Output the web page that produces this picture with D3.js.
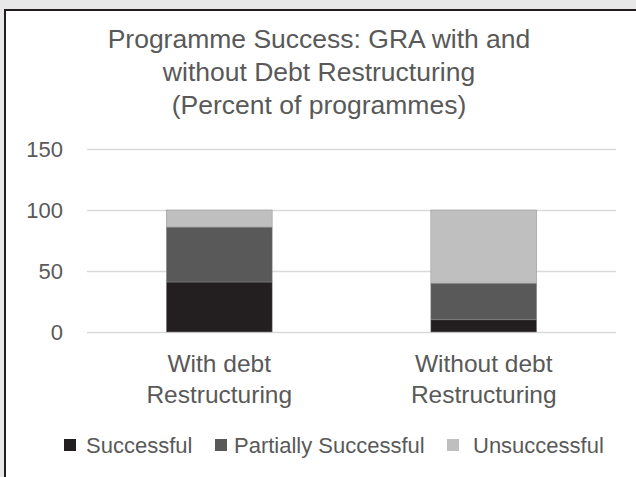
<!DOCTYPE html>
<html>
<head>
<meta charset="utf-8">
<script src="https://cdn.jsdelivr.net/npm/d3@7"></script>
<style>
  body { margin: 0; background: #e8e8e9; }
  svg { display: block; font-family: "Liberation Sans", Arial, sans-serif; }
</style>
</head>
<body>
<svg width="636" height="477"></svg>
<script>
var svg = d3.select("svg"),
    width = +svg.attr("width"),
    height = +svg.attr("height");

// data
var categories = [["With debt", "Restructuring"], ["Without debt", "Restructuring"]];
var seriesNames = ["Successful", "Partially Successful", "Unsuccessful"];
var successful = [41, 10];
var partial = [45, 30];
var unsuccessful = [14, 60];
var yTicks = [0, 50, 100, 150];
var titleLines = ["Programme Success: GRA with and", "without Debt Restructuring", "(Percent of programmes)"];

var colors = ["#231f20", "#595959", "#bfbfbf"];
var textColor = "#595959";

// panel
svg.append("rect")
  .attr("x", 5).attr("y", 10)
  .attr("width", width + 10).attr("height", height + 10)
  .attr("fill", "#fff")
  .attr("stroke", "#231f20")
  .attr("stroke-width", 2);

// title
svg.append("g").selectAll("text")
  .data(titleLines)
  .enter().append("text")
  .attr("x", 319)
  .attr("y", function(d, i) { return 48 + i * 33; })
  .attr("text-anchor", "middle")
  .attr("font-size", 26.5)
  .attr("fill", textColor)
  .text(function(d) { return d; });

var margin = {left: 87, right: 20};
var plotW = width - margin.left - margin.right;

var x = d3.scaleBand()
  .domain(d3.range(categories.length))
  .range([margin.left, margin.left + plotW])
  .paddingInner(0.6)
  .paddingOuter(0.3);

var y = d3.scaleLinear()
  .domain([0, 150])
  .range([332, 149]);

// gridlines
svg.append("g")
  .attr("transform", "translate(" + margin.left + ",0)")
  .call(d3.axisLeft(y).tickValues(yTicks).tickSize(-plotW).tickFormat(""))
  .call(function(g) {
    g.select(".domain").remove();
    g.selectAll("line").attr("stroke", "#d9d9d9").attr("stroke-width", 1.5);
  });

// y tick labels
svg.append("g")
  .attr("transform", "translate(63,0)")
  .call(d3.axisLeft(y).tickValues(yTicks).tickSize(0).tickPadding(0))
  .call(function(g) {
    g.select(".domain").remove();
    g.selectAll("text")
      .attr("font-size", 22)
      .attr("font-family", "Liberation Sans, Arial, sans-serif")
      .attr("fill", textColor);
  });

// stacked bars
var rows = categories.map(function(c, i) {
  return {i: i, Successful: successful[i], "Partially Successful": partial[i], Unsuccessful: unsuccessful[i]};
});
var stack = d3.stack().keys(seriesNames)(rows);

svg.append("g").selectAll("g")
  .data(stack)
  .enter().append("g")
  .attr("fill", function(d, i) { return colors[i]; })
  .selectAll("rect")
  .data(function(d) { return d; })
  .enter().append("rect")
  .attr("x", function(d) { return x(d.data.i); })
  .attr("width", x.bandwidth())
  .attr("y", function(d) { return y(d[1]); })
  .attr("height", function(d) { return y(d[0]) - y(d[1]); })
  .attr("stroke", "#8a8a8a")
  .attr("stroke-width", 0.5);

// category labels
var cat = svg.append("g").selectAll("text")
  .data(categories)
  .enter().append("text")
  .attr("x", function(d, i) { return x(i) + x.bandwidth() / 2; })
  .attr("text-anchor", "middle")
  .attr("font-size", 24.5)
  .attr("fill", textColor);
cat.selectAll("tspan")
  .data(function(d) { return d; })
  .enter().append("tspan")
  .attr("x", function() { return d3.select(this.parentNode).attr("x"); })
  .attr("y", function(d, i) { return 372 + i * 31; })
  .text(function(d) { return d; });

// legend
var legendX = [64, 215, 447];
var leg = svg.append("g").selectAll("g")
  .data(seriesNames)
  .enter().append("g")
  .attr("transform", function(d, i) { return "translate(" + legendX[i] + ",439)"; });
leg.append("rect")
  .attr("width", 12).attr("height", 12)
  .attr("fill", function(d, i) { return colors[i]; });
leg.append("text")
  .attr("x", function(d, i) { return i === 2 ? 26 : (i === 1 ? 19 : 22); })
  .attr("y", 14)
  .attr("font-size", 22)
  .attr("fill", textColor)
  .text(function(d) { return d; });
</script>
</body>
</html>
